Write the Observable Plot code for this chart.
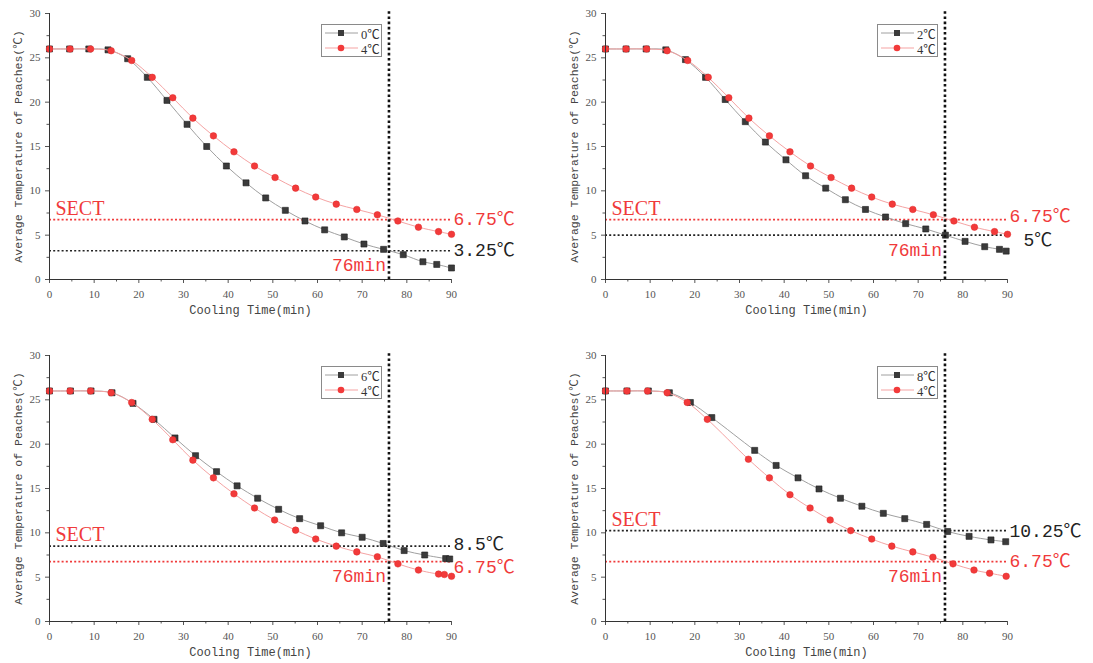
<!DOCTYPE html>
<html><head><meta charset="utf-8">
<script src="https://cdn.jsdelivr.net/npm/d3@7"></script>
<script src="https://cdn.jsdelivr.net/npm/@observablehq/plot@0.6"></script>
<style>
body{margin:0;background:#fff;width:1093px;height:663px;overflow:hidden;position:relative}
.panel{position:absolute}
.legend{position:absolute;width:59px;height:31px;border:1px solid #8a8a8a;background:#fff;font-family:"Liberation Serif","Noto Sans CJK SC",serif;font-size:12.5px;color:#333}
.legend .row{position:absolute;left:3px;height:16px;display:flex;align-items:center}
.legend .row span{margin-left:3px}
</style></head><body>
<script>
// ---- data ----
const timeCond = [0, 4.5, 8.8, 13.1, 17.5, 21.9, 26.3, 30.8, 35.2, 39.6, 44, 48.4, 52.8, 57.2, 61.6, 66, 70.4, 74.8, 79.2, 83.6, 86.7, 90];
const temp0C  = [26.0, 26.0, 26.0, 25.9, 24.9, 22.8, 20.2, 17.5, 15.0, 12.8, 10.9, 9.2, 7.8, 6.6, 5.6, 4.8, 4.0, 3.4, 2.8, 2.0, 1.7, 1.3];

const time2C = [0, 4.6, 9.1, 13.5, 17.9, 22.4, 26.8, 31.3, 35.8, 40.4, 44.8, 49.3, 53.7, 58.2, 62.7, 67.2, 71.7, 76.1, 80.5, 84.9, 88.2, 89.7];
const temp2C = [26.0, 26.0, 26.0, 25.9, 24.8, 22.8, 20.3, 17.8, 15.5, 13.5, 11.7, 10.3, 9.0, 7.9, 7.05, 6.3, 5.7, 5.0, 4.3, 3.7, 3.4, 3.2];

const time6C = [0, 4.7, 9.3, 14.0, 18.7, 23.4, 28.1, 32.7, 37.4, 42.0, 46.6, 51.3, 56.0, 60.7, 65.4, 70.0, 74.7, 79.4, 84.0, 88.7, 89.6];
const temp6C = [26.0, 26.0, 26.0, 25.8, 24.6, 22.8, 20.7, 18.7, 16.9, 15.3, 13.9, 12.65, 11.6, 10.8, 10.0, 9.5, 8.8, 8.0, 7.5, 7.1, 7.05];

const time8C = [0, 4.8, 9.6, 14.3, 19.0, 23.8, 33.4, 38.2, 43.1, 47.8, 52.6, 57.4, 62.2, 67.0, 71.9, 76.6, 81.4, 86.3, 89.6];
const temp8C = [26.0, 26.0, 26.0, 25.8, 24.7, 23.0, 19.3, 17.6, 16.2, 14.95, 13.9, 13.0, 12.2, 11.6, 10.95, 10.15, 9.6, 9.2, 9.0];

const time4C_a = [0, 4.6, 9.2, 13.8, 18.4, 23, 27.6, 32.1, 36.7, 41.3, 45.9, 50.5, 55.1, 59.6, 64.2, 68.8, 73.4, 78, 82.6, 87.1, 90];
const temp4C_a = [26.0, 26.0, 26.0, 25.8, 24.7, 22.8, 20.5, 18.2, 16.2, 14.4, 12.8, 11.5, 10.3, 9.3, 8.5, 7.9, 7.3, 6.6, 5.9, 5.4, 5.1];

const time4C_c = [0, 4.6, 9.2, 13.8, 18.4, 23, 27.6, 32.1, 36.7, 41.3, 45.9, 50.4, 55.1, 59.6, 64.2, 68.8, 73.4, 78, 82.6, 87.1, 88.4, 90];
const temp4C_c = [26.0, 26.0, 26.0, 25.8, 24.7, 22.8, 20.5, 18.2, 16.2, 14.4, 12.8, 11.45, 10.3, 9.3, 8.5, 7.85, 7.3, 6.5, 5.8, 5.35, 5.3, 5.1];

const time4C_d = [0, 4.8, 9.4, 13.8, 18.3, 22.8, 32.0, 36.7, 41.3, 45.8, 50.3, 54.9, 59.6, 64.1, 68.8, 73.3, 77.8, 82.5, 86.0, 89.7];
const temp4C_d = [26.0, 26.0, 26.0, 25.8, 24.7, 22.8, 18.3, 16.2, 14.3, 12.8, 11.45, 10.25, 9.3, 8.5, 7.85, 7.25, 6.5, 5.8, 5.45, 5.1];

const seriesNames = ["0℃", "2℃", "6℃", "8℃"];
const refName = "4℃";
const sectTime = 76;
const sectRef = 6.75;               // 4℃ temperature at 76 min
const sectOther = [3.25, 5, 8.5, 10.25]; // other condition at 76 min
const xTicks = [0, 10, 20, 30, 40, 50, 60, 70, 80, 90];
const yTicks = [0, 5, 10, 15, 20, 25, 30];

// ---- drawing ----
const RED = "#f03a3a", DARK = "#3b3b3b";
const mono = "'Liberation Mono','Noto Sans CJK SC',monospace";
const serif = "'Liberation Serif','Noto Sans CJK SC',serif";

const panels = [
  {t: timeCond, v: temp0C, rt: time4C_a, rv: temp4C_a, left: 0, top: 0, h: 330, mb: 51, dyRef: 0, dyOther: 0},
  {t: time2C, v: temp2C, rt: time4C_a, rv: temp4C_a, left: 556, top: 0, h: 330, mb: 51, dyRef: -3, dyOther: 5, dxOther: 14},
  {t: time6C, v: temp6C, rt: time4C_c, rv: temp4C_c, left: 0, top: 342, h: 321, mb: 42, dyRef: 6, dyOther: -2},
  {t: time8C, v: temp8C, rt: time4C_d, rv: temp4C_d, left: 556, top: 342, h: 321, mb: 42, dyRef: 0, dyOther: 1}
];

panels.forEach((p, i) => {
  const other = p.t.map((t, k) => ({t, v: p.v[k]}));
  const ref = p.rt.map((t, k) => ({t, v: p.rv[k]}));
  const oth = sectOther[i];
  const hi = Math.max(oth, sectRef), lo = Math.min(oth, sectRef);
  const minorX = d3.range(5, 91, 10), minorY = d3.range(2.5, 30, 5);
  const chart = Plot.plot({
    width: 537, height: p.h,
    marginLeft: 49, marginRight: 86, marginTop: 13, marginBottom: p.mb,
    x: {domain: [0, 90]},
    y: {domain: [0, 30]},
    style: {background: "transparent", overflow: "visible"},
    marks: [
      Plot.ruleY([oth], {x1: 0, x2: 90, stroke: "#222", strokeWidth: 1.6, strokeDasharray: "2,2.2"}),
      Plot.ruleY([sectRef], {x1: 0, x2: 90, stroke: RED, strokeWidth: 1.6, strokeDasharray: "2,2.2"}),
      Plot.line(other, {x: "t", y: "v", stroke: "#a0a0a0", strokeWidth: 1, curve: "catmull-rom"}),
      Plot.dot(other, {x: "t", y: "v", symbol: "square", r: 3.4, fill: DARK, stroke: "#1e1e1e", strokeWidth: 0.6}),
      Plot.line(ref, {x: "t", y: "v", stroke: "#f5a3a3", strokeWidth: 1, curve: "catmull-rom"}),
      Plot.dot(ref, {x: "t", y: "v", r: 3.3, fill: "#f23a3a", stroke: "#e02a2a", strokeWidth: 0.5}),
      Plot.ruleX([sectTime], {y1: 0, y2: 30.3, stroke: "#111", strokeWidth: 2.6, strokeDasharray: "2.6,2.6"}),
      // axes
      Plot.axisX({ticks: xTicks, tickSize: 4, tickPadding: 7, label: null, fontFamily: serif, fontSize: 11, color: "#555"}),
      Plot.axisX({ticks: minorX, tickSize: 2.5, text: null, label: null, color: "#555"}),
      Plot.axisY({ticks: yTicks, tickSize: 4, tickPadding: 5, label: null, fontFamily: serif, fontSize: 11, color: "#555"}),
      Plot.axisY({ticks: minorY, tickSize: 2.5, text: null, label: null, color: "#555"}),
      Plot.ruleX([0], {stroke: "#333"}),
      Plot.ruleY([0], {stroke: "#333"}),
      Plot.text(["Cooling Time(min)"], {frameAnchor: "bottom", dy: 34, fontFamily: mono, fontSize: 12, fill: "#444"}),
      Plot.text(["Average Temperature of Peaches(℃)"], {frameAnchor: "left", textAnchor: "middle", rotate: -90, dx: -31, fontFamily: mono, fontSize: 11.5, fill: "#444"}),
      // annotations
      Plot.text([hi], {x: 0, y: d => d, text: () => "SECT", textAnchor: "start", lineAnchor: "bottom", dx: 6, dy: -5, fill: RED, fontFamily: serif, fontSize: 20}),
      Plot.text([sectRef], {x: 90, y: d => d, text: d => d + "℃", textAnchor: "start", dx: 2, dy: p.dyRef, fill: RED, fontFamily: mono, fontSize: 18}),
      Plot.text([oth], {x: 90, y: d => d, text: d => d + "℃", textAnchor: "start", dx: 2 + (p.dxOther || 0), dy: p.dyOther, fill: "#222", fontFamily: mono, fontSize: 18}),
      Plot.text([sectTime], {x: d => d, y: lo, text: d => d + "min", textAnchor: "end", dx: -3, dy: 15, fill: RED, fontFamily: mono, fontSize: 18})
    ]
  });
  const div = document.createElement("div");
  div.className = "panel";
  div.style.left = p.left + "px";
  div.style.top = p.top + "px";
  div.appendChild(chart);
  document.body.appendChild(div);

  const lg = document.createElement("div");
  lg.className = "legend";
  lg.style.left = (p.left + 49 + 272) + "px";
  lg.style.top = (p.top + 13 + 11) + "px";
  lg.innerHTML =
    `<div class="row" style="top:0px"><svg width="33" height="10"><line x1="0" x2="33" y1="5" y2="5" stroke="#a0a0a0"/><rect x="13" y="2" width="6" height="6" fill="${DARK}"/></svg><span>${seriesNames[i]}</span></div>` +
    `<div class="row" style="top:15px"><svg width="33" height="10"><line x1="0" x2="33" y1="5" y2="5" stroke="#f5a3a3"/><circle cx="16" cy="5" r="3.3" fill="#f23a3a"/></svg><span>${refName}</span></div>`;
  document.body.appendChild(lg);
});
</script>
</body></html>
